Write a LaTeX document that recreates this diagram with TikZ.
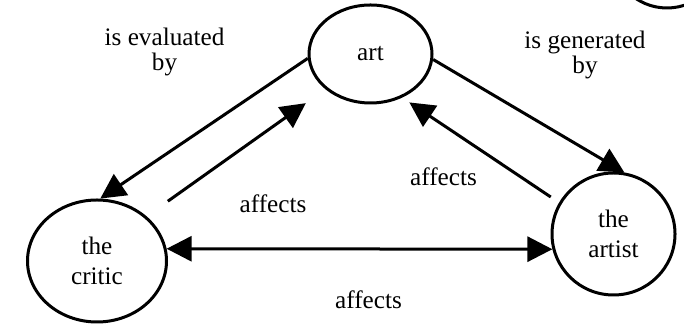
\documentclass[tikz,border=0pt]{standalone}
\usepackage{fontspec}
\setmainfont{Liberation Serif}
\usetikzlibrary{shapes,arrows.meta,positioning}
\tikzset{
    bubble/.style={ellipse,draw=black,line width=1.5pt,inner sep=0pt,
                   align=center,font=\fontsize{12.6}{15}\selectfont},
    lbl/.style={align=center,inner sep=0pt,font=\fontsize{12.6}{12.5}\selectfont},
    link/.style={line width=1.5pt,-{Triangle[length=12.5pt,width=12.5pt]}},
    twolink/.style={line width=1.5pt,{Triangle[length=12.5pt,width=12.5pt]}-{Triangle[length=12.5pt,width=12.5pt]}}
}
\begin{document}
\begin{tikzpicture}[x=0.5pt,y=-0.5pt]
    \useasboundingbox (0,0) rectangle (684,324);
    \begin{scope}
        \clip (0,0) rectangle (684,324);
        \draw[line width=1.5pt] (667,-48) circle[radius=28pt];
    \end{scope}
    \node[bubble,minimum width=61.5pt,minimum height=49pt] (art) at (370.5,54) {art};
    \node[bubble,minimum width=69.5pt,minimum height=61pt] (critic) at (97,261) {the\\critic};
    \node[bubble,minimum width=61.5pt,minimum height=61pt] (artist) at (613.5,234) {the\\artist};
    \node[lbl] (evalby) at (164.5,52) {is evaluated\\by};
    \node[lbl] (genby) at (585,55) {is generated\\by};
    \node[lbl] (affcritic) at (273,203.5) {affects};
    \node[lbl] (affartist) at (443.5,177) {affects};
    \node[lbl] (affboth) at (368.5,299.5) {affects};
    \draw[link] (art.184) -- (critic.87);
    \draw[link,shorten <=13pt,shorten >=12pt] (critic.42) -- (art.218.7);
    \draw[link] (art.-5) -- (artist.80);
    \draw[link,shorten <=5pt,shorten >=4.3pt] (artist.150.4) -- (art.306.7);
    \draw[twolink] (critic.10) -- (artist.194);
\end{tikzpicture}
\end{document}
